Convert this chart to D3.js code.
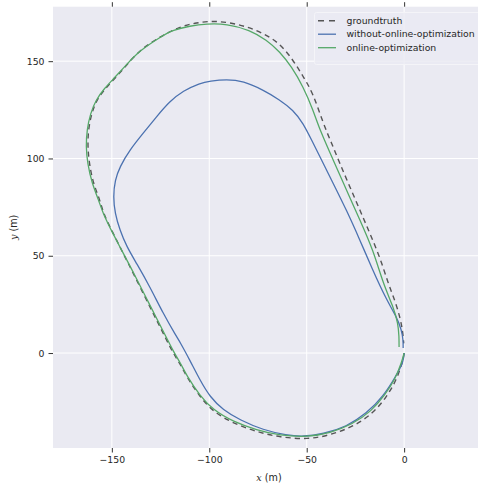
<!DOCTYPE html>
<html>
<head>
<meta charset="utf-8">
<script src="https://cdn.jsdelivr.net/npm/d3@7"></script>
<style>
  html, body { margin: 0; padding: 0; background: #ffffff; }
  svg { display: block; }
</style>
</head>
<body>
<svg id="chart" width="478" height="486"></svg>
<script>
// ---- data (metres) ----
const seriesNames = ["groundtruth", "without-online-optimization", "online-optimization"];

const groundtruthX = [0, -0.5, -3.9, -9.0, -15.9, -26.2, -38.1, -49.3, -63.8, -75.7, -87.7, -98.0, -104.8, -111.6, -115.1,
  -118.5, -125.3, -132.2, -139.0, -144.2, -149.3, -154.4, -156.1, -159.6, -161.6, -162.4, -162.1, -160.4, -157.8, -153.3,
  -148.5, -142.4, -135.6, -125.3, -115.1, -106.5, -98.0, -89.4, -80.9, -72.3, -63.8, -57.0, -51.8, -46.7, -41.6,
  -37.2, -33.0, -27.9, -22.7, -17.6, -12.5, -8.2, -4.8, -2.2, -0.8, -0.2];
const groundtruthY = [0, -3.6, -13.9, -22.5, -31.0, -37.9, -42.2, -44.4, -43.3, -40.5, -36.1, -30.2, -22.5, -12.2, -5.3,
  -0.2, 13.5, 27.2, 41.0, 51.2, 61.5, 71.8, 78.7, 87.2, 97.5, 106.1, 114.7, 123.2, 130.1, 136.1,
  141.0, 148.1, 155.8, 162.6, 167.8, 169.8, 170.7, 169.8, 167.8, 164.4, 159.2, 150.6, 142.1, 133.5, 118.1,
  107.8, 97.5, 85.5, 73.5, 61.5, 49.5, 35.8, 27.2, 18.7, 11.8, 5.0];

const withoutX = [0, -0.4, -3.9, -10.8, -19.3, -29.6, -41.6, -51.8, -60.3, -72.3, -84.3, -92.9, -99.7, -104.8, -110.0, -115.1,
  -116.8, -123.7, -130.5, -137.3, -142.4, -145.9, -148.4, -149.3, -148.4, -145.9, -140.8, -133.9, -127.0, -120.5,
  -113.4, -104.8, -99.7, -91.1, -82.6, -72.3, -63.8, -57.0, -51.8, -47.5, -42.4, -36.4, -29.6, -22.7, -16.6,
  -9.0, -3.9, -1.3, -0.5, -0.5];
const withoutY = [0, -4.6, -11.3, -22.5, -31.0, -37.9, -41.6, -43.0, -42.2, -39.6, -34.4, -29.3, -22.5, -13.9, -3.6, 5.8,
  8.4, 20.4, 34.1, 46.1, 54.7, 63.2, 71.8, 80.4, 88.9, 95.8, 104.4, 113.0, 121.5, 129.2,
  134.8, 138.7, 139.8, 140.7, 139.8, 135.2, 130.1, 124.9, 118.1, 109.5, 99.2, 87.2, 73.5, 58.1, 43.7,
  27.2, 18.7, 11.8, 6.7, 2.6];

const onlineX = [0, -1.2, -4.8, -9.9, -16.6, -26.8, -38.1, -49.4, -63.8, -75.7, -87.7, -98.0, -104.8, -111.5, -114.8,
  -117.9, -124.8, -131.8, -138.7, -144.1, -149.5, -154.6, -156.8, -160.2, -162.5, -163.3, -162.8, -161.0, -158.2, -153.8,
  -148.8, -142.4, -135.6, -125.3, -118.5, -110.0, -101.4, -91.1, -79.2, -70.6, -63.8, -57.8, -51.8, -46.7,
  -43.3, -36.4, -29.6, -22.7, -15.9, -10.8, -5.6, -3.1, -2.6, -2.6];
const onlineY = [0, -4.6, -13.9, -21.6, -29.8, -36.8, -41.1, -43.2, -42.4, -39.6, -35.3, -29.3, -21.9, -11.8, -5.1,
  -0.2, 13.5, 27.2, 41.0, 51.2, 61.5, 71.8, 78.7, 87.2, 97.5, 106.1, 114.7, 123.2, 130.1, 136.1,
  141.3, 148.3, 155.5, 162.3, 166.1, 168.1, 169.2, 169.2, 166.1, 160.9, 154.9, 147.2, 136.9, 124.9,
  114.7, 99.2, 83.8, 68.4, 53.0, 35.8, 23.8, 15.3, 8.4, 3.1];

const xTicks = [-150, -100, -50, 0];
const yTicks = [0, 50, 100, 150];
const xLabel = "x";
const yLabel = "y";

// ---- layout ----
const svg = d3.select("#chart");
const pLeft = 53, pRight = 485, pTop = 6.7, pBottom = 448;
const x = d3.scaleLinear().domain([-180.2, 41.5]).range([pLeft, pRight]);
const y = d3.scaleLinear().domain([-48.8, 178.0]).range([pBottom, pTop]);
const font = "'DejaVu Sans', sans-serif";
const textColor = "#262626";

// background
svg.append("rect").attr("x", pLeft).attr("y", pTop)
  .attr("width", pRight - pLeft).attr("height", pBottom - pTop).attr("fill", "#EAEAF2");

// grid
const grid = svg.append("g");
grid.selectAll(".gx").data(xTicks).join("line")
  .attr("x1", d => x(d)).attr("x2", d => x(d)).attr("y1", pTop).attr("y2", pBottom)
  .attr("stroke", "#ffffff").attr("stroke-width", 1);
grid.selectAll(".gy").data(yTicks).join("line")
  .attr("y1", d => y(d)).attr("y2", d => y(d)).attr("x1", pLeft).attr("x2", pRight)
  .attr("stroke", "#ffffff").attr("stroke-width", 1);

// axes
function styleAxis(g) {
  g.select(".domain").remove();
  g.selectAll(".tick line").attr("stroke", "#333333").attr("stroke-width", 1);
  g.selectAll(".tick text").attr("fill", textColor).attr("font-family", font).attr("font-size", "9.3px");
}
svg.append("g").attr("transform", `translate(0,${pBottom})`)
  .call(d3.axisBottom(x).tickValues(xTicks).tickSize(4.5).tickPadding(3.5).tickFormat(d3.format("d")))
  .call(styleAxis);
svg.append("g").attr("transform", `translate(0,${pTop})`)
  .call(d3.axisTop(x).tickValues(xTicks).tickSize(4.5).tickFormat(() => ""))
  .call(styleAxis);
svg.append("g").attr("transform", `translate(${pLeft},0)`)
  .call(d3.axisLeft(y).tickValues(yTicks).tickSize(4.5).tickPadding(4).tickFormat(d3.format("d")))
  .call(styleAxis);

// axis labels
const xl = svg.append("text").attr("x", (pLeft + pRight) / 2).attr("y", 481)
  .attr("text-anchor", "middle").attr("fill", textColor)
  .attr("font-family", font).attr("font-size", "9.6px");
xl.append("tspan").attr("font-family", "'DejaVu Serif', serif").attr("font-style", "italic").text(xLabel);
xl.append("tspan").text(" (m)");

const yl = svg.append("text")
  .attr("transform", `translate(17,${(pTop + pBottom) / 2}) rotate(-90)`)
  .attr("text-anchor", "middle").attr("fill", textColor)
  .attr("font-family", font).attr("font-size", "9.6px");
yl.append("tspan").attr("font-family", "'DejaVu Serif', serif").attr("font-style", "italic").text(yLabel);
yl.append("tspan").text(" (m)");

// lines
svg.append("clipPath").attr("id", "plotclip").append("rect")
  .attr("x", pLeft).attr("y", pTop).attr("width", pRight - pLeft).attr("height", pBottom - pTop);
const line = d3.line().x(d => x(d[0])).y(d => y(d[1])).curve(d3.curveBasis);
const series = [
  { name: seriesNames[0], xs: groundtruthX, ys: groundtruthY, color: "#555555", width: 1.4, dash: "5.2,4" },
  { name: seriesNames[1], xs: withoutX, ys: withoutY, color: "#4C72B0", width: 1.3, dash: null },
  { name: seriesNames[2], xs: onlineX, ys: onlineY, color: "#55A868", width: 1.3, dash: null }
];
const plot = svg.append("g").attr("clip-path", "url(#plotclip)");
series.forEach(s => {
  const pts = s.xs.map((v, i) => [v, s.ys[i]]);
  plot.append("path").datum(pts).attr("d", line)
    .attr("fill", "none").attr("stroke", s.color).attr("stroke-width", s.width)
    .attr("stroke-dasharray", s.dash).attr("stroke-linejoin", "round").attr("stroke-linecap", "butt");
});

// legend
const lg = svg.append("g");
lg.append("rect").attr("x", 314.5).attr("y", 12.5).attr("width", 180).attr("height", 52).attr("rx", 2)
  .attr("fill", "#EAEAF2").attr("fill-opacity", 0.8).attr("stroke", "#f4f4f8").attr("stroke-width", 1);
series.forEach((s, i) => {
  const yy = 20.7 + i * 13.5;
  lg.append("line").attr("x1", 318).attr("x2", 336).attr("y1", yy).attr("y2", yy)
    .attr("stroke", s.color).attr("stroke-width", s.width).attr("stroke-dasharray", s.dash ? "6,5" : null);
  lg.append("text").attr("x", 346.5).attr("y", yy).attr("dy", "0.35em")
    .attr("fill", textColor).attr("font-family", font).attr("font-size", "9.3px").text(s.name);
});
</script>
</body>
</html>
